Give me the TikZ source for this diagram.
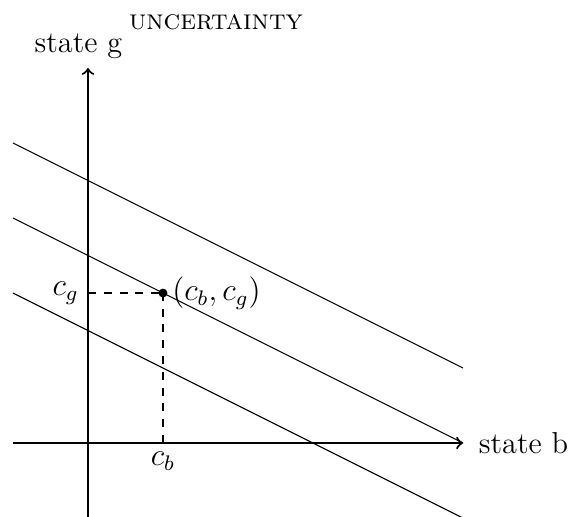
\documentclass[tikz,border=0pt]{standalone}
\begin{document}
\begin{tikzpicture}[
  txt/.style={font=\fontsize{11.5}{13.8}\selectfont},
  smalltxt/.style={font=\fontsize{10.7}{12.8}\selectfont},
  axis/.style={thick,->},
  budget/.style={thin},
  guide/.style={dashed}
]
\useasboundingbox (-1.173,-0.973) rectangle (6.44,5.907);
\coordinate (xs) at (-1,0);
\coordinate (xe) at (5,0);
\coordinate (ys) at (0,-1);
\coordinate (ye) at (0,5);
\draw[axis] (xs) -- (xe);
\draw[axis] (ys) -- (ye);
\coordinate (a1) at (-1,4); \coordinate (b1) at (5,1);
\coordinate (a2) at (-1,3); \coordinate (b2) at (5,0);
\coordinate (a3) at (-1,2); \coordinate (b3) at (5,-1);
\begin{scope}
\clip (-1.173,-0.973) rectangle (6.44,5.907);
\draw[budget] (a1) -- (b1);
\draw[budget] (a2) -- (b2);
\draw[budget] (a3) -- (b3);
\end{scope}
\coordinate (gx) at (0,2);
\coordinate (bx) at (1,0);
\node[circle,fill,inner sep=1.2pt] (p) at (1,2) {};
\draw[guide] (gx) -- (p.center);
\draw[guide] (bx) -- (p.center);
\node[txt,left] (cg) at (gx) {$c_g$};
\node[txt,below] (cb) at (bx) {$c_b$};
\node[txt,right] (pl) at (p.center) {$(c_b,c_g)$};
\node[txt,right,xshift=2.5pt] (sb) at (xe) {state b};
\node[txt,anchor=base] (sg) at (-0.127,5.213) {state g};
\node[smalltxt,anchor=base] (unc) at (1.707,5.507) {\textsc{uncertainty}};
\end{tikzpicture}
\end{document}
